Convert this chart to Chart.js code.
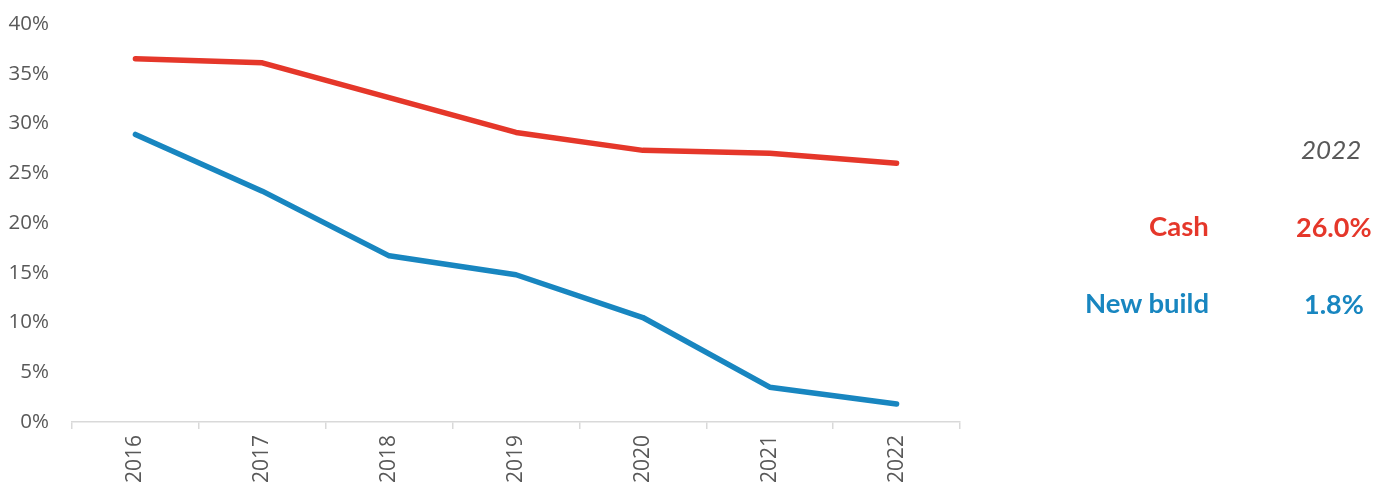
<!DOCTYPE html>
<html>
<head>
<meta charset="utf-8">
<script src="https://cdn.jsdelivr.net/npm/chart.js@4"></script>
<style>
html,body{margin:0;padding:0;background:#fff;}
#wrap{position:relative;width:1375px;height:486px;overflow:hidden;}
canvas{position:absolute;left:0;top:0;}
.ann{position:absolute;white-space:nowrap;line-height:1;font-family:Lato,"Open Sans",sans-serif;}
</style>
</head>
<body>
<div id="wrap"><canvas id="c" width="1375" height="486"></canvas></div>
<script>
const years = ["2016","2017","2018","2019","2020","2021","2022"];
const cash = [36.5, 36.1, 32.6, 29.1, 27.3, 27.0, 26.0];
const newBuild = [28.9, 23.2, 16.7, 14.8, 10.5, 3.5, 1.8];
const seriesNames = ["Cash", "New build"];
const seriesColors = ["#E5372A", "#1886C0"];
const yTicks = [0,5,10,15,20,25,30,35,40];
const annYear = "2022";
const annValues = ["26.0%", "1.8%"];

const chart = new Chart(document.getElementById('c'), {
  type: 'line',
  data: {
    labels: years,
    datasets: [
      {label: seriesNames[0], data: cash, borderColor: seriesColors[0], backgroundColor: seriesColors[0]},
      {label: seriesNames[1], data: newBuild, borderColor: seriesColors[1], backgroundColor: seriesColors[1]}
    ]
  },
  options: {
    responsive: false,
    animation: false,
    devicePixelRatio: 1,
    layout: {padding: {top: 24, right: 415, left: 0, bottom: 0}},
    elements: {
      line: {borderWidth: 5.5, tension: 0, borderCapStyle: 'round', borderJoinStyle: 'round'},
      point: {radius: 0}
    },
    plugins: {legend: {display: false}, tooltip: {enabled: false}},
    scales: {
      x: {
        offset: true,
        grid: {display: true, drawOnChartArea: false, offset: true, tickLength: 7, color: '#d9d9d9', lineWidth: 1.5},
        border: {display: true, color: '#d9d9d9', width: 1.5},
        ticks: {minRotation: 90, maxRotation: 90, padding: 6, color: '#595959', font: {family: 'Open Sans', size: 21}},
        afterFit: s => { s.height = 64; s.paddingTop = 0; s.paddingBottom = 0; }
      },
      y: {
        min: 0, max: 40,
        afterBuildTicks: s => { s.ticks = yTicks.map(v => ({value: v})); },
        grid: {display: false, drawTicks: false},
        border: {display: false},
        ticks: {padding: 23, color: '#595959', font: {family: 'Open Sans', size: 20.5}, callback: v => v + '%'},
        afterFit: s => { s.width = 72; s.paddingTop = 0; s.paddingBottom = 0; }
      }
    }
  }
});

// annotation panel
const wrap = document.getElementById('wrap');
function addText(txt, x, y, align, style) {
  const d = document.createElement('div');
  d.className = 'ann';
  d.textContent = txt;
  Object.assign(d.style, style);
  wrap.appendChild(d);
  const w = d.offsetWidth, h = d.offsetHeight;
  let left = x;
  if (align === 'right') left = x - w;
  else if (align === 'center') left = x - w / 2;
  d.style.left = left + 'px';
  d.style.top = (y - h / 2) + 'px';
}
addText(annYear, 1331, 149, 'center', {fontStyle: 'italic', color: '#595959', fontSize: '26px'});
const rowsY = [226, 303];
seriesNames.forEach((n, i) => {
  addText(n, 1209, rowsY[i], 'right', {fontWeight: 'bold', color: seriesColors[i], fontSize: '27.5px'});
  addText(annValues[i], 1334, rowsY[i], 'center', {fontWeight: 'bold', color: seriesColors[i], fontSize: '27px'});
});
</script>
</body>
</html>
